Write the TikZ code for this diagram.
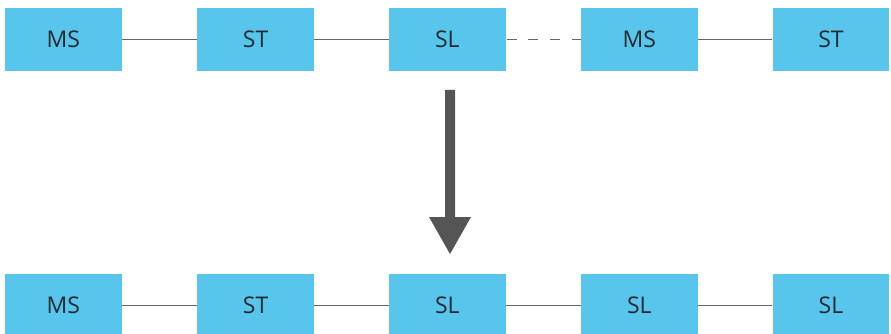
\documentclass[tikz,border=0pt]{standalone}
\usepackage{fontspec}
\setmainfont{Open Sans}
\begin{document}
\begin{tikzpicture}[x=1pt,y=-1pt,
  blk/.style={fill=boxblue,draw=none,minimum width=116.7pt,minimum height=62.7pt,
    inner sep=0pt,text=textdark,font=\fontsize{23}{26}\selectfont},
  link/.style={draw=linegray,line width=1.6pt},
  dlink/.style={link,dash pattern=on 10pt off 11.6pt,dash phase=-1pt}]
\definecolor{boxblue}{HTML}{58C5EC}
\definecolor{textdark}{HTML}{222A30}
\definecolor{linegray}{HTML}{666666}
\definecolor{arrowgray}{HTML}{555555}
\useasboundingbox (0,0) rectangle (891,334);
\begin{scope}
\clip (0,0) rectangle (891,334);
% upper chain
\node[blk] (a1) at (63.3,39.5) {MS};
\node[blk] (a2) at (255.6,39.5) {ST};
\node[blk] (a3) at (447.3,39.5) {SL};
\node[blk] (a4) at (639.3,39.5) {MS};
\node[blk] (a5) at (831,39.5) {ST};
\draw[link] (a1) -- (a2);
\draw[link] (a2) -- (a3);
\draw[dlink] (a3) -- (a4);
\draw[link] (a4) -- (a5);
% lower chain
\node[blk] (b1) at (63.3,305.3) {MS};
\node[blk] (b2) at (255.6,305.3) {ST};
\node[blk] (b3) at (447.3,305.3) {SL};
\node[blk] (b4) at (639.3,305.3) {SL};
\node[blk] (b5) at (831,305.3) {SL};
\draw[link] (b1) -- (b2);
\draw[link] (b2) -- (b3);
\draw[link] (b3) -- (b4);
\draw[link] (b4) -- (b5);
\end{scope}
% transformation arrow
\coordinate (s) at (450,90);
\coordinate (e) at (450,254);
\fill[arrowgray] (445,90) -- (455,90) -- (455,217) -- (471,217) -- (e) -- (429,217) -- (445,217) -- cycle;
\end{tikzpicture}
\end{document}
